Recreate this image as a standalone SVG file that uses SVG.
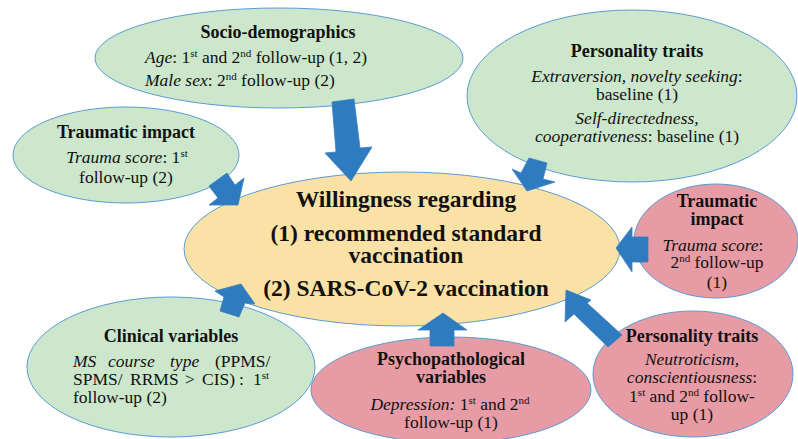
<svg xmlns="http://www.w3.org/2000/svg" width="798" height="439" viewBox="0 0 798 439">
<style>
text{font-family:"Liberation Serif","Times New Roman",serif;fill:#111;font-size:17.5px}
.t{font-weight:bold;font-size:18px}
.c{font-weight:bold;font-size:23.5px}
.m{text-anchor:middle}
.i{font-style:italic}
.g{fill:#CCE7CC;stroke:#5B9BD5;stroke-width:1}
.p{fill:#E79CA5;stroke:#5B9BD5;stroke-width:1}
.y{fill:#FAE2A6;stroke:#5B9BD5;stroke-width:1}
.a{fill:#2E7BBF;stroke:#3A7FBF;stroke-width:0.8}
.s{font-size:11px}
</style>
<rect width="798" height="439" fill="#fff"/>
<g id="center">
<ellipse class="y" cx="402" cy="249" rx="218" ry="77"/>
<text class="c m" x="406" y="207">Willingness regarding</text>
<text class="c m" x="406" y="241">(1) recommended standard</text>
<text class="c m" x="406" y="263">vaccination</text>
<text class="c m" x="406" y="296">(2) SARS-CoV-2 vaccination</text>
</g>
<g id="socio">
<ellipse class="g" cx="279" cy="58" rx="184" ry="50"/>
<text class="t m" x="278" y="38">Socio-demographics</text>
<text x="145" y="63"><tspan class="i">Age</tspan>: 1<tspan class="s" baseline-shift="super">st</tspan> and 2<tspan class="s" baseline-shift="super">nd</tspan> follow-up (1, 2)</text>
<text x="145" y="86"><tspan class="i">Male sex</tspan>: 2<tspan class="s" baseline-shift="super">nd</tspan> follow-up (2)</text>
</g>
<g id="personality-green">
<ellipse class="g" cx="632" cy="96" rx="165" ry="86"/>
<text class="t m" x="637" y="57">Personality traits</text>
<text class="m" x="637" y="82"><tspan class="i">Extraversion, novelty seeking</tspan>:</text>
<text class="m" x="637" y="100">baseline (1)</text>
<text class="m i" x="637" y="124">Self-directedness,</text>
<text class="m" x="637" y="142"><tspan class="i">cooperativeness</tspan>: baseline (1)</text>
</g>
<g id="trauma-green">
<ellipse class="g" cx="126" cy="155" rx="113" ry="48"/>
<text class="t m" x="126" y="138">Traumatic impact</text>
<text class="m" x="127" y="163"><tspan class="i">Trauma score</tspan>: 1<tspan class="s" baseline-shift="super">st</tspan></text>
<text class="m" x="126" y="183">follow-up (2)</text>
</g>
<g id="clinical">
<ellipse class="g" cx="171" cy="367" rx="144" ry="70"/>
<text class="t m" x="171" y="342">Clinical variables</text>
<text y="367"><tspan class="i" x="73">MS</tspan><tspan class="i" x="108">course</tspan><tspan class="i" x="170">type</tspan><tspan x="215">(PPMS/</tspan></text>
<text y="385"><tspan x="73">SPMS/</tspan><tspan x="130">RRMS</tspan><tspan x="185">&gt;</tspan><tspan x="202">CIS)</tspan><tspan x="239">:</tspan><tspan x="253">1</tspan><tspan class="s" baseline-shift="super">st</tspan></text>
<text x="73" y="403">follow-up (2)</text>
</g>
<g id="psychopathological">
<ellipse class="p" cx="451" cy="390" rx="140" ry="53"/>
<text class="t m" x="451" y="365">Psychopathological</text>
<text class="t m" x="451" y="383">variables</text>
<text class="m" x="450" y="410"><tspan class="i">Depression:</tspan> 1<tspan class="s" baseline-shift="super">st</tspan> and 2<tspan class="s" baseline-shift="super">nd</tspan></text>
<text class="m" x="451" y="428">follow-up (1)</text>
</g>
<g id="trauma-pink">
<ellipse class="p" cx="716" cy="241" rx="82" ry="57"/>
<text class="t m" x="717" y="207">Traumatic</text>
<text class="t m" x="717" y="225">impact</text>
<text class="m" x="713" y="251"><tspan class="i">Trauma score</tspan>:</text>
<text class="m" x="717" y="268">2<tspan class="s" baseline-shift="super">nd</tspan> follow-up</text>
<text class="m" x="717" y="288">(1)</text>
</g>
<g id="personality-pink">
<ellipse class="p" cx="693" cy="374" rx="100" ry="63"/>
<text class="t m" x="692" y="342">Personality traits</text>
<text class="m i" x="692" y="365">Neutroticism,</text>
<text class="m" x="692" y="383"><tspan class="i">conscientiousness</tspan>:</text>
<text class="m" x="692" y="402">1<tspan class="s" baseline-shift="super">st</tspan> and 2<tspan class="s" baseline-shift="super">nd</tspan> follow-</text>
<text class="m" x="692" y="420">up (1)</text>
</g>
<g id="connectors">
<polygon class="a" points="332,102 354,99 360,148 372,147 351,181 325,153 336,152"/>
<polygon class="a" points="227,173 209,186 218,198 209,205 238,205 244,178 235,185"/>
<polygon class="a" points="529,158 547,163 543,179 555,182 527,191 512,169 521,173"/>
<polygon class="a" points="220,311 239,317 245,303 255,304 241,284 215,291 224,297"/>
<polygon class="a" points="430,346 454,346 454,330 467,330 443,313 418,330 430,330"/>
<polygon class="a" points="648,237 648,262 632,262 632,272 616,248 632,227 632,237"/>
<polygon class="a" points="622,335 608,347 574,314 565,322 566,290 591,300 587,303"/>
</g>
</svg>
